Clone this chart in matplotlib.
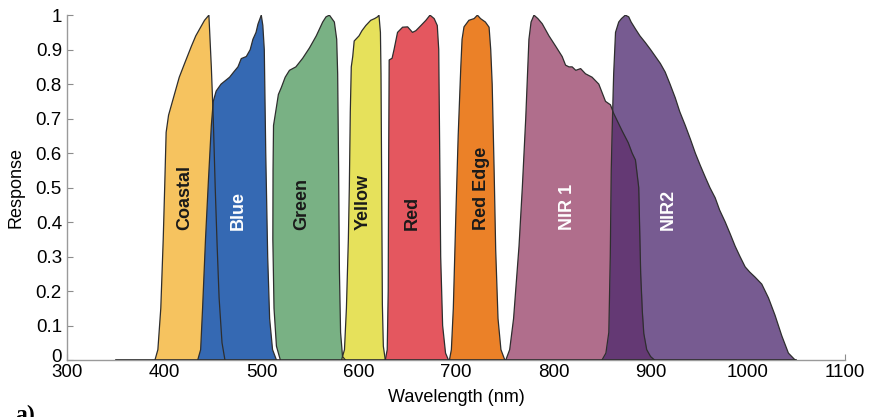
import numpy as np
import matplotlib
matplotlib.use("Agg")
import matplotlib.pyplot as plt
import matplotlib.transforms as mtransforms

plt.rcParams["font.family"] = ["Liberation Sans", "DejaVu Sans"]

# ── Band response curves (wavelength nm, relative response) ──
coastal_nm = [390, 393, 396, 398.5, 400, 401.5, 404, 410, 415, 420.5, 427.5, 432, 436, 441, 445.5,
              448, 450, 452, 454, 456, 459, 462]
coastal_resp = [0, 0.03, 0.15, 0.35, 0.5, 0.66, 0.71, 0.77, 0.82, 0.86, 0.91, 0.94, 0.96, 0.985, 1.0,
                0.85, 0.7, 0.5, 0.33, 0.18, 0.05, 0]

blue_nm = [434, 437, 439, 442, 445, 448, 450, 453, 458, 466.8, 471, 475.4, 478.8, 484, 488, 490.8,
           494, 496, 499.4, 501, 502.5, 504, 506, 508, 511, 515]
blue_resp = [0, 0.03, 0.15, 0.35, 0.52, 0.68, 0.75, 0.78, 0.80, 0.82, 0.835, 0.85, 0.874, 0.88, 0.90,
             0.93, 0.95, 0.974, 1.0, 0.97, 0.9, 0.6, 0.3, 0.12, 0.03, 0]

green_nm = [519, 515, 512.5, 511.3, 511.5, 512, 514.8, 517, 520, 524, 528.4, 535, 542, 549, 556,
            562.6, 566, 569.5, 574.6, 577, 578, 579, 579.8, 581, 583, 586]
green_resp = [0, 0.04, 0.15, 0.35, 0.55, 0.68, 0.73, 0.77, 0.79, 0.82, 0.84, 0.85, 0.875, 0.905, 0.94,
              0.98, 0.995, 1.0, 0.98, 0.93, 0.83, 0.55, 0.26, 0.08, 0.01, 0]

yellow_nm = [582, 585, 587, 589, 590, 591, 592, 593.5, 595, 600, 603, 607, 612, 616, 619, 620.5,
             622, 622.6, 623.3, 624, 625, 627]
yellow_resp = [0, 0.03, 0.15, 0.35, 0.5, 0.72, 0.85, 0.88, 0.925, 0.94, 0.955, 0.97, 0.985, 0.99,
               0.995, 1.0, 0.95, 0.83, 0.5, 0.16, 0.04, 0]

red_nm = [627, 629, 630, 630.5, 631, 634, 636, 639.6, 644.8, 650, 655, 658.5, 663.7, 668.8, 673,
          677.3, 680.5, 682, 683, 684, 686, 689, 692]
red_resp = [0, 0.03, 0.2, 0.6, 0.87, 0.875, 0.9, 0.95, 0.965, 0.966, 0.95, 0.955, 0.97, 0.985, 1.0,
            0.99, 0.97, 0.9, 0.6, 0.3, 0.1, 0.02, 0]

rededge_nm = [693, 695, 697, 699.6, 702, 704.7, 706, 708, 713, 718.4, 721.8, 725, 730, 733.8, 735.5,
              737, 739, 740.6, 743, 746, 750]
rededge_resp = [0, 0.03, 0.15, 0.42, 0.65, 0.85, 0.93, 0.966, 0.985, 0.99, 1.0, 0.99, 0.98, 0.965,
                0.9, 0.8, 0.55, 0.32, 0.12, 0.03, 0]

nir1_nm = [751, 755, 759, 764.6, 768, 771.5, 774.8, 777, 780, 784, 788.5, 795.4, 802.3, 809, 812.5,
           816, 819.3, 823, 828, 833, 839.8, 846.7, 853.6, 858.7, 862, 870.6, 877, 881, 884.4, 887.8,
           889, 889.8, 891.5, 893, 896, 900, 904]
nir1_resp = [0, 0.03, 0.12, 0.33, 0.5, 0.7, 0.93, 0.98, 1.0, 0.99, 0.975, 0.94, 0.91, 0.88, 0.855,
             0.85, 0.85, 0.84, 0.845, 0.83, 0.82, 0.80, 0.75, 0.74, 0.715, 0.665, 0.63, 0.60, 0.58,
             0.50, 0.35, 0.25, 0.14, 0.077, 0.03, 0.01, 0]

nir2_nm = [850, 854, 857, 858.5, 859.5, 860.4, 861.5, 862, 863.9, 867.2, 870, 874, 877.5, 880, 884.4,
           889, 894.7, 900, 905, 910, 915, 920, 925.4, 930, 935.7, 941, 946, 951, 956.3, 961, 966.5,
           971, 976.8, 982, 987, 992, 997.3, 1002, 1007.6, 1014.4, 1021.3, 1028, 1035, 1041.8, 1048.7]
nir2_resp = [0, 0.02, 0.08, 0.3, 0.55, 0.66, 0.78, 0.83, 0.95, 0.98, 0.99, 1.0, 0.995, 0.98, 0.96,
             0.94, 0.92, 0.90, 0.88, 0.86, 0.835, 0.80, 0.76, 0.72, 0.68, 0.64, 0.60, 0.565, 0.53,
             0.50, 0.47, 0.435, 0.40, 0.365, 0.33, 0.30, 0.27, 0.255, 0.24, 0.22, 0.18, 0.13, 0.07,
             0.02, 0]

baseline_nm = [350, 1050]

band_names = ["Coastal", "Blue", "Green", "Yellow", "Red", "Red Edge", "NIR 1", "NIR2"]
band_colors = ["#F6C35F", "#3569B3", "#79B184", "#E6E15B", "#E4575F", "#EB8128", "#B06E8C", "#775B91"]
label_x = [421, 476, 541, 604.5, 654.5, 726, 815, 918.5]
label_colors = ["#1a1a1a", "white", "#1a1a1a", "#1a1a1a", "#1a1a1a", "#1a1a1a", "white", "white"]
overlap_color = "#643974"

bands = [
    (coastal_nm, coastal_resp),
    (blue_nm, blue_resp),
    (green_nm, green_resp),
    (yellow_nm, yellow_resp),
    (red_nm, red_resp),
    (rededge_nm, rededge_resp),
    (nir1_nm, nir1_resp),
    (nir2_nm, nir2_resp),
]

fig = plt.figure(figsize=(8.72, 4.17), dpi=100)
ax = fig.add_axes([0.0774, 0.1367, 0.8916, 0.827])

# fills first, in band order
for (nm, resp), color in zip(bands, band_colors):
    ax.fill(nm, resp, color=color, linewidth=0, zorder=2)

# NIR1 / NIR2 overlap in a darker purple
grid = np.linspace(nir2_nm[0], nir1_nm[-1], 300)
overlap = np.minimum(np.interp(grid, nir1_nm, nir1_resp), np.interp(grid, nir2_nm, nir2_resp))
ax.fill_between(grid, 0, overlap, color=overlap_color, linewidth=0, zorder=2)

# outlines on top of all fills
for nm, resp in bands:
    ax.plot(nm, resp, color="#2e2e2e", linewidth=0.9, zorder=3)
ax.plot(baseline_nm, [0, 0], color="#2e2e2e", linewidth=1.2, zorder=3)

for name, x, tc in zip(band_names, label_x, label_colors):
    ax.text(x, 0.377, name, rotation=90, ha="center", va="bottom",
            fontsize=13, fontweight="bold", color=tc, zorder=4)

ax.set_xlim(300, 1100)
ax.set_ylim(0, 1)
ax.set_xticks(np.arange(300, 1101, 100))
ax.set_yticks(np.arange(0, 1.01, 0.1))
ax.set_yticklabels(["0", "0.1", "0.2", "0.3", "0.4", "0.5", "0.6", "0.7", "0.8", "0.9", "1"])
ax.tick_params(direction="in", length=4, color="#8c8c8c", labelsize=13.5, pad=4)
ax.tick_params(axis="x", pad=3)
for side in ["top", "right"]:
    ax.spines[side].set_visible(False)
for side in ["left", "bottom"]:
    ax.spines[side].set_color("#9a9a9a")
    ax.spines[side].set_linewidth(1.0)

# lift the "0" label a touch so it clears "300" (as in the original)
zero_label = ax.get_yticklabels()[0]
zero_label.set_transform(zero_label.get_transform()
                         + mtransforms.ScaledTranslation(0, 3 / 72, fig.dpi_scale_trans))

ax.set_xlabel("Wavelength (nm)", fontsize=13, labelpad=6)
ax.set_ylabel("Response", fontsize=13, labelpad=8)

fig.text(0.017, 0.028, "a)", fontsize=17, fontweight="bold",
         family=["Liberation Serif", "DejaVu Serif"], va="top", ha="left")

fig.savefig("out.png", dpi=100)
